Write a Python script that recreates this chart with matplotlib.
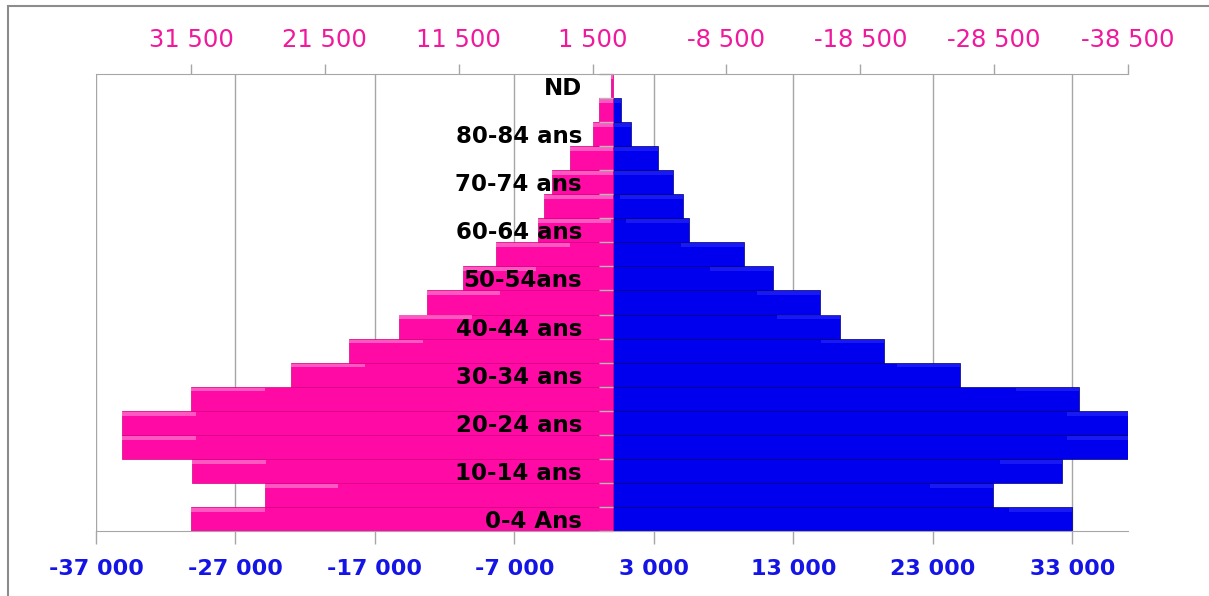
import numpy as np
import matplotlib.pyplot as plt
from matplotlib.patches import Rectangle

categories = ['0-4 Ans', '5-9 ans', '10-14 ans', '15-19 ans', '20-24 ans', '25-29 ans',
              '30-34 ans', '35-39 ans', '40-44 ans', '45-49 ans', '50-54ans', '55-59 ans',
              '60-64 ans', '65-69 ans', '70-74 ans', '75-79 ans', '80-84 ans', '85 ans et +', 'ND']
femmes = [31500, 26000, 31400, 36650, 36650, 31500, 24000, 19700, 16000, 13900,
          11200, 8700, 5600, 5100, 4500, 3200, 1500, 1050, 100]
hommes = [33000, 27300, 32300, 37100, 37100, 33500, 24950, 19500, 16350, 14900,
          11550, 9450, 5500, 5100, 4350, 3300, 1350, 650, 0]

bottom_ticks = np.arange(-37000, 33001, 10000)
top_ticks = np.arange(-38500, 31501, 10000)

pink = '#FF0AA5'
pink_light = '#FF9ADC'
blue = '#0000EE'
blue_light = '#4A4AFF'
grid_col = '#A6A6A6'


def fmt(v):
    return f"{int(v):,}".replace(",", " ")


fig = plt.figure(figsize=(12.09, 5.96), dpi=100)
fig.subplots_adjust(left=96/1209, right=1128/1209, top=1-74/596, bottom=1-531/596)
ax = fig.add_subplot(111)
ax2 = ax.twiny()

y = np.arange(len(categories))
f = np.array(femmes)
h = np.array(hommes)

# hommes, axe du bas
for t in bottom_ticks:
    ax.axvline(t, color=grid_col, lw=1, zorder=0)
ax.barh(y, h, height=1.0, color=blue, edgecolor='#00007A', linewidth=0.5, zorder=0.8)
ax.barh(y + 0.38, np.minimum(h, 4500), left=h - np.minimum(h, 4500), height=0.16,
        color=blue_light, alpha=0.35, linewidth=0, zorder=0.9)
ax.set_xlim(-37000, 37000)
ax.set_ylim(-0.5, len(categories) - 0.5)
ax.set_xticks(bottom_ticks, [fmt(t) for t in bottom_ticks])
ax.tick_params(axis='x', colors=grid_col, labelcolor='#1414E6', length=9, width=1,
               labelsize=16, pad=11)
for lab in ax.get_xticklabels():
    lab.set_fontweight('bold')
ax.tick_params(axis='y', which='both', left=False, labelleft=False)
for s in ['top', 'right', 'left']:
    ax.spines[s].set_visible(False)
ax.spines['bottom'].set_color(grid_col)

# femmes, axe du haut (inversé)
ax2.barh(y, f, height=1.0, color=pink, edgecolor='#D4007F', linewidth=0.5, zorder=0.8)
ax2.barh(y + 0.38, np.minimum(f, 5500), left=f - np.minimum(f, 5500), height=0.16,
         color=pink_light, alpha=0.55, linewidth=0, zorder=0.9)
ax2.set_xlim(38600, -38500)
ax2.set_xticks(top_ticks, [fmt(t) for t in top_ticks])
ax2.tick_params(axis='x', colors=grid_col, labelcolor='#F0189C', length=7, width=1,
                labelsize=17.5, pad=9)
for s in ['bottom', 'right']:
    ax2.spines[s].set_visible(False)
ax2.spines['top'].set_color(grid_col)

# étiquettes des tranches d'âge le long de l'axe zéro
ax2.yaxis.set_visible(True)
ax2.spines['left'].set_position(('data', 0))
ax2.spines['left'].set_visible(False)
ax2.set_yticks(y[::2], [categories[i] for i in y[::2]])
ax2.set_yticks(np.arange(-0.5, len(categories), 1), minor=True)
ax2.tick_params(axis='y', which='major', length=0, pad=22, labelsize=16.5, labelcolor='black')
ax2.tick_params(axis='y', which='minor', length=10, width=1, color='#B8B8B8', direction='out')
for lab in ax2.get_yticklabels():
    lab.set_fontweight('bold')

fig.add_artist(Rectangle((8/1209, -0.05), 1.2, (596-6)/596 + 0.05, transform=fig.transFigure,
                         fill=False, edgecolor='#8C8C8C', linewidth=1.5))

fig.savefig('out.png', dpi=100)
